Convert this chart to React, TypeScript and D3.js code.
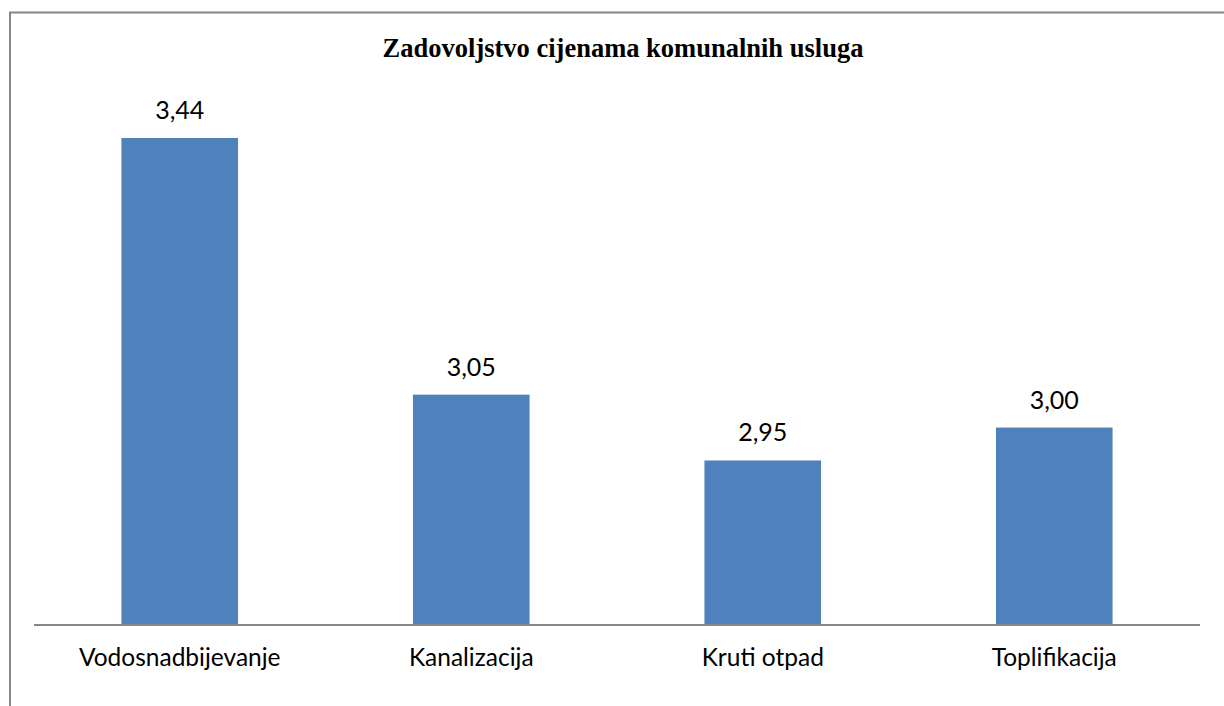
import React, { useEffect, useRef } from "react";
import * as d3 from "d3";

const categories = ["Vodosnadbijevanje", "Kanalizacija", "Kruti otpad", "Toplifikacija"];
const values = [3.44, 3.05, 2.95, 3.0];
const yDomain = [2.7, 3.5];
const title = "Zadovoljstvo cijenama komunalnih usluga";

const W = 1224;
const H = 706;

export default function App() {
  const ref = useRef<SVGSVGElement>(null);

  useEffect(() => {
    const svg = d3.select(ref.current);
    svg.selectAll("*").remove();

    const plot = { left: 34, right: 1200, top: 98.5, bottom: 625 };

    // outer frame (cropped at right and bottom, like the source)
    svg.append("path")
      .attr("d", `M10,${H + 2} L10,12.5 L${W + 2},12.5`)
      .attr("fill", "none")
      .attr("stroke", "#868686")
      .attr("stroke-width", 2);

    svg.append("text")
      .attr("x", 623)
      .attr("y", 57)
      .attr("text-anchor", "middle")
      .attr("font-family", "'Liberation Serif', 'Times New Roman', serif")
      .attr("font-weight", "bold")
      .attr("font-size", 26.5)
      .attr("fill", "#000")
      .text(title);

    const x = d3.scaleBand<string>()
      .domain(categories)
      .range([plot.left, plot.right])
      .paddingInner(0.6)
      .paddingOuter(0.3);

    const y = d3.scaleLinear().domain(yDomain).range([plot.bottom, plot.top]);

    const g = svg.append("g");

    g.selectAll("rect.bar")
      .data(values)
      .enter()
      .append("rect")
      .attr("class", "bar")
      .attr("x", (d, i) => x(categories[i])!)
      .attr("y", d => y(d))
      .attr("width", x.bandwidth())
      .attr("height", d => plot.bottom - y(d))
      .attr("fill", "#4f81bd");

    const fmt = (v: number) => v.toFixed(2).replace(".", ",");

    g.selectAll("text.val")
      .data(values)
      .enter()
      .append("text")
      .attr("class", "val")
      .attr("x", (d, i) => x(categories[i])! + x.bandwidth() / 2)
      .attr("y", d => y(d) - 19)
      .attr("text-anchor", "middle")
      .attr("font-family", "Lato, 'Open Sans', sans-serif")
      .attr("font-size", 25)
      .attr("fill", "#000")
      .text(d => fmt(d));

    // x axis
    const xAxis = g.append("g")
      .attr("transform", `translate(0,${plot.bottom})`)
      .call(d3.axisBottom(x).tickSize(0).tickPadding(24).tickSizeOuter(0));
    xAxis.select(".domain").attr("stroke", "#868686").attr("stroke-width", 2)
      .attr("d", `M${plot.left},0H${plot.right}`);
    xAxis.selectAll("text")
      .attr("font-family", "Lato, 'Open Sans', sans-serif")
      .attr("font-size", 24.5)
      .attr("fill", "#000")
      .attr("dy", "0.71em");
  }, []);

  return (
    <svg
      ref={ref}
      width={W}
      height={H}
      style={{ position: "absolute", left: 0, top: 0, background: "#fff" }}
    />
  );
}
